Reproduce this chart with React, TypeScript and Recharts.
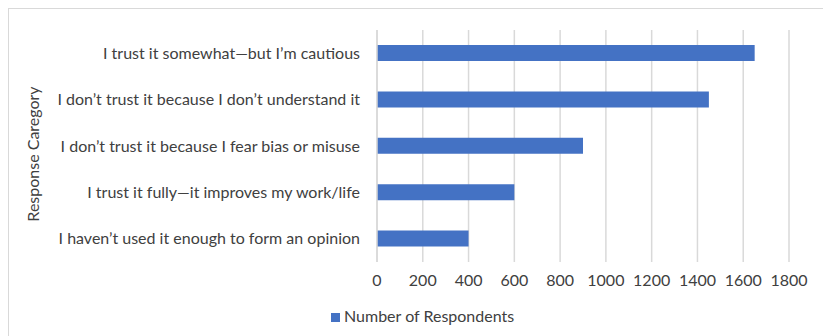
import { BarChart, Bar, XAxis, YAxis, CartesianGrid, Legend, Label } from "recharts"

const categories = [
  "I trust it somewhat\u2014but I\u2019m cautious",
  "I don\u2019t trust it because I don\u2019t understand it",
  "I don\u2019t trust it because I fear bias or misuse",
  "I trust it fully\u2014it improves my work/life",
  "I haven\u2019t used it enough to form an opinion",
]
const respondents = [1650, 1450, 900, 600, 400]
const xTicks = [0, 200, 400, 600, 800, 1000, 1200, 1400, 1600, 1800]

const chartData = categories.map((c, i) => ({ category: c, respondents: respondents[i] }))

const FONT = "Lato, 'Noto Sans', sans-serif"
const TEXT = "#404040"
const GRID = "#d9d9d9"

export default function App() {
  return (
    <div style={{ position: "absolute", left: 0, top: 0, width: 823, height: 336, overflow: "hidden", background: "#fff", fontFamily: FONT }}>
      <div
        style={{
          position: "absolute",
          left: 8,
          top: 8,
          width: 900,
          height: 400,
          borderTop: `1px solid ${GRID}`,
          borderLeft: `1px solid ${GRID}`,
        }}
      />
      <div style={{ position: "absolute", left: 0, top: 0 }}>
        <BarChart
          width={823}
          height={336}
          data={chartData}
          layout="vertical"
          margin={{ top: 30, right: 34, bottom: 25, left: 0 }}
        >
          <CartesianGrid horizontal={false} stroke={GRID} strokeWidth={1.5} />
          <XAxis
            type="number"
            domain={[0, 1800]}
            ticks={xTicks}
            interval={0}
            axisLine={false}
            tickLine={false}
            tickMargin={7}
            tick={{ fill: TEXT, fontSize: 16, fontFamily: FONT }}
          />
          <YAxis
            type="category"
            dataKey="category"
            width={377}
            interval={0}
            tickLine={false}
            tickMargin={11}
            axisLine={{ stroke: GRID, strokeWidth: 1.5 }}
            tick={{ fill: TEXT, fontSize: 16, fontFamily: FONT }}
          >
            <Label
              content={({ viewBox }: any) => {
                const cx = viewBox.x + 32
                const cy = viewBox.y + viewBox.height / 2 + 8
                return (
                  <text
                    x={cx}
                    y={cy}
                    transform={`rotate(-90, ${cx}, ${cy})`}
                    textAnchor="middle"
                    dominantBaseline="central"
                    fill={TEXT}
                    fontSize={16}
                    fontFamily={FONT}
                  >
                    Response Caregory
                  </text>
                )
              }}
            />
          </YAxis>
          <Legend
            verticalAlign="bottom"
            iconType="square"
            iconSize={9}
            wrapperStyle={{ left: 331, top: 306, width: "auto", fontSize: 16, fontFamily: FONT }}
            formatter={(value: string) => <span style={{ color: TEXT }}>{value}</span>}
          />
          <Bar
            dataKey="respondents"
            name="Number of Respondents"
            fill="#4472C4"
            barSize={16}
            isAnimationActive={false}
          />
        </BarChart>
      </div>
    </div>
  )
}
